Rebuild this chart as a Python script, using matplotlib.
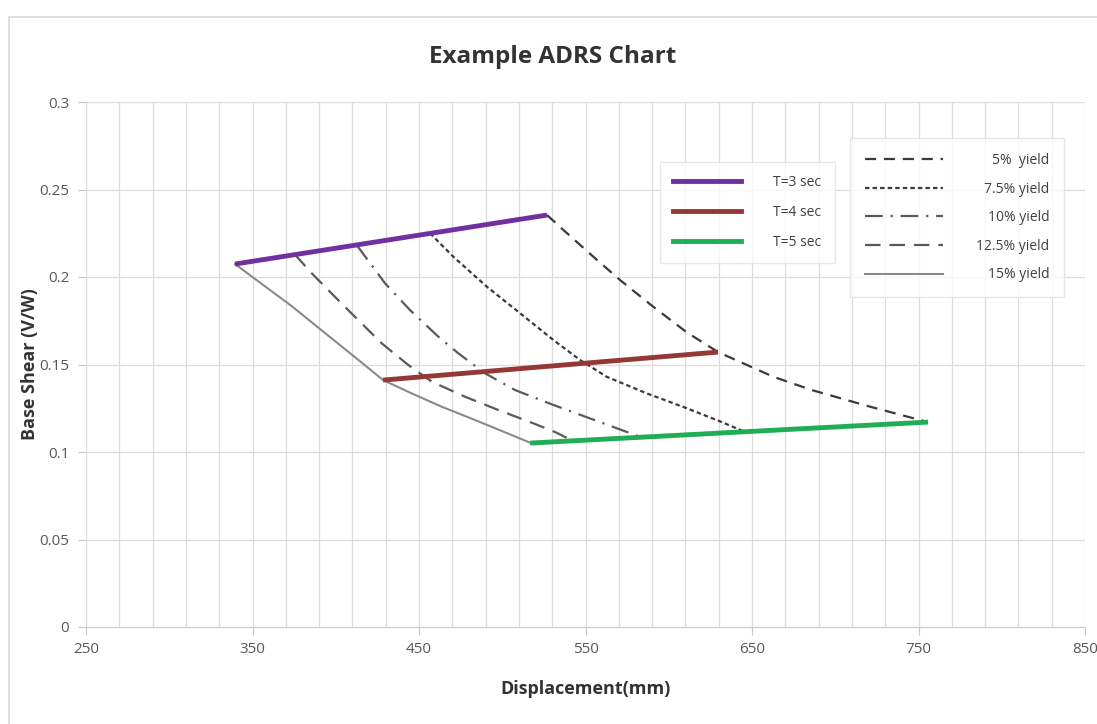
import matplotlib.pyplot as plt
from matplotlib.lines import Line2D
from matplotlib.patches import Rectangle
import numpy as np

plt.rcParams['font.family'] = ['Open Sans', 'DejaVu Sans']

# Period lines (displacement mm, base shear V/W)
t3_x = [339.5, 526.9]
t3_y = [0.2074, 0.2354]
t4_x = [428.4, 629.6]
t4_y = [0.1411, 0.1571]
t5_x = [516.7, 755.7]
t5_y = [0.1051, 0.1171]

# Yield curves
y5_x = [526.9, 536.7, 554.7, 570.7, 590.7, 610.8, 629.6, 662.8, 685.9, 720.9, 746.9, 755.7]
y5_y = [0.2354, 0.2269, 0.2116, 0.1983, 0.1830, 0.1684, 0.1571, 0.1430, 0.1354, 0.1259, 0.1193, 0.1171]
y75_x = [456.6, 470.6, 490.7, 510.7, 530.7, 546.7, 562.7, 586.8, 610.8, 630.8, 645.0]
y75_y = [0.2250, 0.2116, 0.1945, 0.1793, 0.1640, 0.1526, 0.1430, 0.1335, 0.1250, 0.1175, 0.1118]
y10_x = [412.6, 429.6, 444.6, 461.6, 473.6, 489.6, 507.7, 530.7, 554.7, 582.7]
y10_y = [0.2182, 0.1964, 0.1811, 0.1659, 0.1564, 0.1450, 0.1354, 0.1269, 0.1185, 0.1087]
y125_x = [375.5, 385.6, 399.5, 413.5, 427.6, 443.6, 457.6, 477.6, 497.6, 519.7, 532.7, 538.9]
y125_y = [0.2128, 0.2021, 0.1887, 0.1754, 0.1621, 0.1497, 0.1402, 0.1316, 0.1240, 0.1160, 0.1110, 0.1080]
y15_x = [339.5, 353.5, 373.5, 393.5, 413.5, 428.4, 445.6, 463.6, 483.6, 503.6, 516.7]
y15_y = [0.2074, 0.1975, 0.1834, 0.1680, 0.1527, 0.1411, 0.1335, 0.1259, 0.1183, 0.1105, 0.1053]

x_ticks = [250, 350, 450, 550, 650, 750, 850]
y_ticks = [0, 0.05, 0.1, 0.15, 0.2, 0.25, 0.3]
y_labels = ['0', '0.05', '0.1', '0.15', '0.2', '0.25', '0.3']

period_labels = ['T=3 sec', 'T=4 sec', 'T=5 sec']
yield_labels = ['5%  yield', '7.5% yield', '10% yield', '12.5% yield', '15% yield']

fig = plt.figure(figsize=(10.97, 7.24), dpi=100)
fig.patches.append(Rectangle((9/1097, -0.01), 1.0, 1 - 17/724 + 0.01, transform=fig.transFigure,
                             fill=False, edgecolor='#d9d9d9', linewidth=1.2))
ax = fig.add_axes([86/1097, 1 - 627/724, 999/1097, 525/724])

purple = '#7030a0'
red = '#953735'
green = '#1fae55'

yield_styles = [dict(color='#3a3a3a', lw=1.6, ls=(0, (5, 3.5))),
                dict(color='#3a3a3a', lw=1.6, ls=(0, (2, 1.4))),
                dict(color='#5a5a5a', lw=1.6, ls=(0, (8, 3.5, 1, 3.5))),
                dict(color='#5a5a5a', lw=1.6, ls=(0, (7, 4))),
                dict(color='#8a8a8a', lw=1.5)]

# yield curves
for xs, ys, st in zip([y5_x, y75_x, y10_x, y125_x, y15_x],
                      [y5_y, y75_y, y10_y, y125_y, y15_y], yield_styles):
    ax.plot(xs, ys, **st)

# period lines
ax.plot(t3_x, t3_y, color=purple, lw=3.5, solid_capstyle='butt')
ax.plot(t4_x, t4_y, color=red, lw=3.5, solid_capstyle='butt')
ax.plot(t5_x, t5_y, color=green, lw=3.5, solid_capstyle='butt')

ax.set_xlim(250, 850)
ax.set_ylim(0, 0.3)
ax.set_xticks(x_ticks)
ax.set_xticks(np.arange(250, 851, 20), minor=True)
ax.set_yticks(y_ticks)
ax.set_yticklabels(y_labels)
ax.grid(True, which='both', axis='x', color='#dcdcdc', lw=0.9)
ax.grid(True, which='major', axis='y', color='#dcdcdc', lw=0.9)
ax.set_axisbelow(True)
for s in ['top', 'right', 'left']:
    ax.spines[s].set_visible(False)
ax.spines['bottom'].set_color('#c8c8c8')
ax.tick_params(axis='x', which='major', length=6, color='#c8c8c8', labelsize=11,
               labelcolor='#595959', pad=5)
ax.tick_params(axis='x', which='minor', length=0)
ax.tick_params(axis='y', length=6, color='#c8c8c8', labelsize=11, labelcolor='#595959', pad=6)

fig.text(553/1097, 1 - 57/724, 'Example ADRS Chart', fontsize=17.5, fontweight='bold',
         color='#333333', ha='center', va='center')
ax.set_xlabel('Displacement(mm)', fontsize=13, fontweight='bold', color='#333333', labelpad=16)
ax.set_ylabel('Base Shear (V/W)', fontsize=13, fontweight='bold', color='#333333', labelpad=0)

h1 = [Line2D([], [], color=purple, lw=3.5),
      Line2D([], [], color=red, lw=3.5),
      Line2D([], [], color=green, lw=3.5)]
leg1 = ax.legend(h1, period_labels, loc='upper left',
                 bbox_to_anchor=((660 - 86) / 999, (627 - 162) / 525), fontsize=10,
                 handlelength=4.9, handletextpad=2.3, labelspacing=1.07, borderpad=0.95,
                 frameon=True, fancybox=False, edgecolor='#e3e3e3', borderaxespad=0)
for t in leg1.get_texts():
    t.set_color('#404040')
ax.add_artist(leg1)

h2 = [Line2D([], [], **st) for st in yield_styles]
leg2 = ax.legend(h2, yield_labels,
                 loc='upper left', bbox_to_anchor=((850 - 86) / 999, (627 - 138) / 525),
                 fontsize=10, handlelength=5.6, handletextpad=2.4, labelspacing=0.98,
                 borderpad=1.08, frameon=True, fancybox=False, edgecolor='#e3e3e3',
                 borderaxespad=0)
for t in leg2.get_texts():
    t.set_color('#404040')

# right-align the yield legend labels
fig.canvas.draw()
r = fig.canvas.get_renderer()
widths = [t.get_window_extent(r).width for t in leg2.get_texts()]
for t, w in zip(leg2.get_texts(), widths):
    t.set_x(max(widths) - w)

fig.savefig('out.png', dpi=100, facecolor='white')
